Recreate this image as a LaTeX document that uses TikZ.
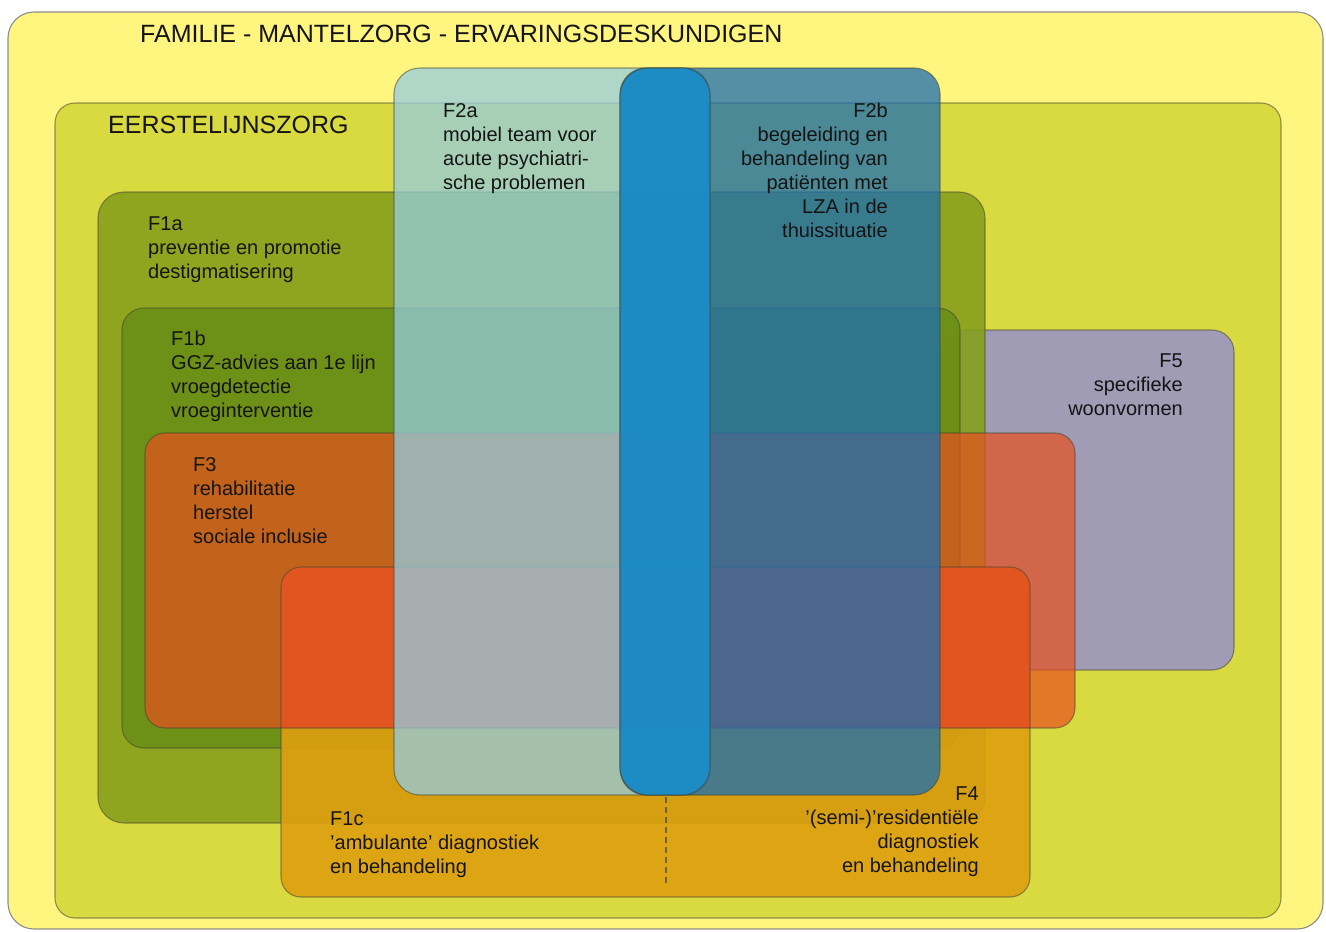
\documentclass[tikz,border=0pt]{standalone}
\usepackage{fontspec}
\setmainfont{Liberation Sans}
\definecolor{outerc}{RGB}{255,245,127}
\definecolor{eerstc}{RGB}{217,218,64}
\definecolor{fonea}{RGB}{135,160,28}
\definecolor{foneb}{RGB}{106,142,23}
\definecolor{fthree}{RGB}{232,80,30}
\definecolor{ffive}{RGB}{160,156,182}
\definecolor{fonec}{RGB}{222,159,16}
\definecolor{fonecred}{RGB}{226,84,32}
\definecolor{ftwoa}{RGB}{149,204,222}
\definecolor{ftwob}{RGB}{27,110,178}
\definecolor{bandc}{RGB}{24,141,200}
\definecolor{txt}{RGB}{20,20,20}
\definecolor{edge}{RGB}{70,70,50}
\begin{document}
\begin{tikzpicture}[x=1pt,y=-1pt,
  rim/.style={draw=edge, draw opacity=0.55, line width=1.1pt},
  lbl/.style={inner sep=0pt, font=\fontsize{20}{24}\selectfont, text=txt, align=left, anchor=north west},
  rlbl/.style={lbl, align=right, anchor=north east},
  head/.style={inner sep=0pt, font=\fontsize{25}{30}\selectfont, text=txt, anchor=west}]
\useasboundingbox (0,0) rectangle (1326,932);
\fill[white] (0,0) rectangle (1326,932);
\begin{scope}
\clip (0,0) rectangle (1326,932);
% outer family box
\filldraw[fill=outerc, draw=black!45, line width=1.1pt, rounded corners=26pt] (8,12) rectangle (1323,929);
% eerstelijnszorg
\filldraw[fill=eerstc, rim, rounded corners=20pt] (55,103) rectangle (1281,918);
% F5
\filldraw[fill=ffive, rim, rounded corners=22pt] (940,330) rectangle (1234,670);
% F1a
\filldraw[fill=fonea, fill opacity=0.9, rim, rounded corners=26pt] (98,192) rectangle (985,823);
% F1b
\filldraw[fill=foneb, fill opacity=0.9, rim, rounded corners=22pt] (122,308) rectangle (960,748);
% F3
\fill[fthree, fill opacity=0.7, rounded corners=20pt] (145,433) rectangle (1075,728);
% F1c / F4
\fill[fonec, fill opacity=0.9, rounded corners=20pt] (281,567) rectangle (1030,897);
\begin{scope}
\clip[rounded corners=20pt] (145,433) rectangle (1075,728);
\fill[fonecred, rounded corners=20pt] (281,567) rectangle (1030,897);
\end{scope}
\draw[rim, rounded corners=20pt] (145,433) rectangle (1075,728);
\draw[rim, rounded corners=20pt] (281,567) rectangle (1030,897);
% dashed divider
\coordinate (d1) at (666,797);
\coordinate (d2) at (666,885);
\draw[draw=edge, draw opacity=0.7, line width=1.1pt, dash pattern=on 6pt off 4pt] (d1) -- (d2);
% F2a, F2b and overlap band
\filldraw[fill=ftwoa, fill opacity=0.75, rim, rounded corners=26pt] (394,68) rectangle (710,795);
\filldraw[fill=ftwob, fill opacity=0.75, rim, rounded corners=26pt] (620,68) rectangle (940,795);
\filldraw[fill=bandc, fill opacity=0.85, rim, rounded corners=28pt] (620,68) rectangle (710,795);
\end{scope}
% labels
\node[head] (tfam) at (140,34) {FAMILIE - MANTELZORG - ERVARINGSDESKUNDIGEN};
\node[head] (teer) at (108,125) {EERSTELIJNSZORG};
\node[lbl] (tf1a) at (148,217) {F1a\\preventie en promotie\\destigmatisering};
\node[lbl] (tf1b) at (171,331) {F1b\\GGZ-advies aan 1e lijn\\vroegdetectie\\vroeginterventie};
\node[lbl] (tf3) at (193,457) {F3\\rehabilitatie\\herstel\\sociale inclusie};
\node[lbl] (tf2a) at (443,103) {F2a\\mobiel team voor\\acute psychiatri-\\sche problemen};
\node[rlbl] (tf2b) at (888,103) {F2b\\begeleiding en\\behandeling van\\patiënten met\\LZA in de\\thuissituatie};
\node[rlbl] (tf5) at (1183,354) {F5\\specifieke\\woonvormen};
\node[lbl] (tf1c) at (330,812) {F1c\\'ambulante' diagnostiek\\en behandeling};
\node[rlbl] (tf4) at (979,787) {F4\\'(semi-)'residentiële\\diagnostiek\\en behandeling};
\end{tikzpicture}
\end{document}
